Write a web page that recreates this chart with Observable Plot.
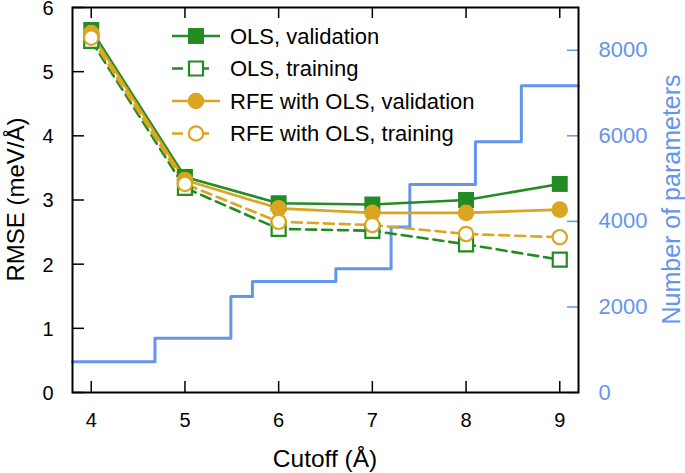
<!DOCTYPE html>
<html>
<head>
<meta charset="utf-8">
<script src="https://cdn.jsdelivr.net/npm/d3@7"></script>
<script src="https://cdn.jsdelivr.net/npm/@observablehq/plot@0.6"></script>
<style>
  html, body { margin: 0; padding: 0; background: white; }
  #wrap { position: relative; width: 685px; height: 473px; }
  #legend { position: absolute; left: 0; top: 0; pointer-events: none; }
</style>
</head>
<body>
<div id="wrap"></div>
<script>
// ---- data ----
const cutoffs = [4, 5, 6, 7, 8, 9];
const olsValidation = [5.65, 3.36, 2.95, 2.93, 3.00, 3.25];
const olsTraining = [5.48, 3.19, 2.55, 2.52, 2.31, 2.07];
const rfeValidation = [5.60, 3.31, 2.87, 2.80, 2.80, 2.85];
const rfeTraining = [5.53, 3.25, 2.66, 2.61, 2.47, 2.42];

const paramCutoffs = [3.8, 4.68, 5.49, 5.72, 6.61, 7.20, 7.40, 8.10, 8.59, 9.2];
const paramCounts = [720, 1266, 2243, 2595, 2892, 3867, 4861, 5860, 7172, 7172];

const xTicks = [4, 5, 6, 7, 8, 9];
const yTicks = [0, 1, 2, 3, 4, 5, 6];
const paramTicks = [0, 2000, 4000, 6000, 8000];

const seriesNames = ["OLS, validation", "OLS, training", "RFE with OLS, validation", "RFE with OLS, training"];
const xTitle = "Cutoff (Å)";
const yTitle = "RMSE (meV/Å)";
const y2Title = "Number of parameters";

// ---- styles ----
const GREEN = "#228b22", GOLD = "#daa520", BLUE = "#6495ed";
const FONT = "'Liberation Sans', Arial, Helvetica, sans-serif";
const paramScale = 9000 / 6; // right axis: 0..9000 maps onto 0..6

const series = [
  {name: seriesNames[0], values: olsValidation, color: GREEN, dash: null, symbol: "square", open: false, r: 9},
  {name: seriesNames[1], values: olsTraining, color: GREEN, dash: "10,6", symbol: "square", open: true, r: 7.9},
  {name: seriesNames[2], values: rfeValidation, color: GOLD, dash: null, symbol: "circle", open: false, r: 8.3},
  {name: seriesNames[3], values: rfeTraining, color: GOLD, dash: "10,6", symbol: "circle", open: true, r: 7.2}
];

const paramData = paramCutoffs.map((c, i) => ({cutoff: c, v: paramCounts[i] / paramScale}));

const W = 685, H = 473, ML = 72, MR = 107, MT = 7, MB = 81;
const frameW = W - ML - MR, frameH = H - MT - MB;

const marks = [
  Plot.line(paramData, {x: "cutoff", y: "v", curve: "step-after", stroke: BLUE, strokeWidth: 3})
];
for (const s of series) {
  const data = cutoffs.map((c, i) => ({cutoff: c, v: s.values[i]}));
  marks.push(Plot.line(data, {x: "cutoff", y: "v", stroke: s.color, strokeWidth: 2.6, strokeDasharray: s.dash}));
}
for (const s of series) {
  const data = cutoffs.map((c, i) => ({cutoff: c, v: s.values[i]}));
  marks.push(Plot.dot(data, {
    x: "cutoff", y: "v", symbol: s.symbol, r: s.r,
    fill: s.open ? "white" : s.color,
    stroke: s.open ? s.color : "none",
    strokeWidth: 2.2
  }));
}
marks.push(
  Plot.tickY(yTicks, {y: d => d, insetRight: frameW - 12, stroke: "black", strokeWidth: 1.5}),
  Plot.tickY(paramTicks, {y: d => d / paramScale, insetLeft: frameW - 11, stroke: BLUE, strokeWidth: 1.5}),
  Plot.tickX(xTicks, {x: d => d, insetTop: frameH - 11, stroke: "black", strokeWidth: 1.5}),
  Plot.tickX(xTicks, {x: d => d, insetBottom: frameH - 11, stroke: "black", strokeWidth: 1.5}),
  Plot.frame({stroke: "black", strokeWidth: 2}),
  Plot.axisX(xTicks, {anchor: "bottom", tickSize: 0, tickPadding: 20, fontSize: 20, fill: "black", label: null,
    tickFormat: d => String(d)}),
  Plot.axisY(yTicks, {anchor: "left", tickSize: 0, tickPadding: 19, fontSize: 20, dy: 1, fill: "black", label: null,
    tickFormat: d => String(d)}),
  Plot.axisY(paramTicks.map(t => t / paramScale), {anchor: "right", tickSize: 0, tickPadding: 20, fontSize: 22, fill: BLUE, label: null,
    tickFormat: d => String(Math.round(d * paramScale))})
);

const chart = Plot.plot({
  width: W, height: H,
  marginLeft: ML, marginRight: MR, marginTop: MT, marginBottom: MB,
  x: {domain: [3.8, 9.2]},
  y: {domain: [0, 6]},
  style: {fontFamily: FONT, background: "white", overflow: "visible"},
  marks
});
document.getElementById("wrap").appendChild(chart);

// ---- overlay: axis titles and legend ----
const svg = d3.select("#wrap").append("svg").attr("id", "legend").attr("width", W).attr("height", H);
function title(txt, x, y, rot, size, color) {
  svg.append("text")
    .attr("transform", `translate(${x},${y}) rotate(${rot})`)
    .attr("text-anchor", "middle").attr("dominant-baseline", "central")
    .attr("font-family", FONT).attr("font-size", size).attr("fill", color).text(txt);
}
title(yTitle, 15, MT + frameH / 2, -90, 24, "black");
title(xTitle, ML + frameW / 2, 458, 0, 24.5, "black");
title(y2Title, 671, MT + frameH / 2, -90, 25, BLUE);

const legendRows = [36, 68.5, 101, 133.5];
series.forEach((s, i) => {
  const y = legendRows[i];
  const g = svg.append("g");
  g.append("line").attr("x1", 172).attr("x2", 220).attr("y1", y).attr("y2", y)
    .attr("stroke", s.color).attr("stroke-width", 2.6)
    .attr("stroke-dasharray", s.dash ? "11,15" : null);
  const sym = d3.symbol().type(s.symbol === "square" ? d3.symbolSquare : d3.symbolCircle).size(Math.PI * s.r * s.r);
  g.append("path").attr("d", sym()).attr("transform", `translate(196,${y})`)
    .attr("fill", s.open ? "white" : s.color)
    .attr("stroke", s.open ? s.color : "none").attr("stroke-width", 2.2);
  g.append("text").attr("x", 230).attr("y", y).attr("dy", "0.35em")
    .attr("font-family", FONT).attr("font-size", 22).attr("fill", "black").text(s.name);
});
</script>
</body>
</html>
